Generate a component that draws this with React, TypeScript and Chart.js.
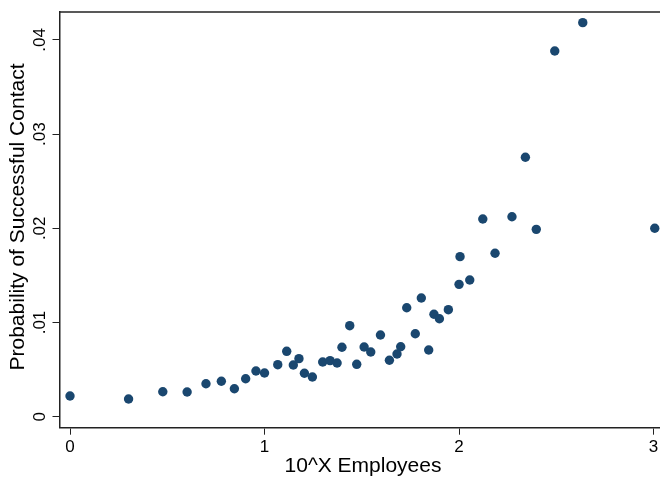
import React, { useEffect, useRef } from "react";
import { Chart, registerables } from "chart.js";

Chart.register(...registerables);

const xValues: number[] = [0, 0.301, 0.477, 0.602, 0.699, 0.778, 0.845, 0.903, 0.956, 1.0, 1.068, 1.114, 1.148, 1.177, 1.205, 1.246, 1.299, 1.337, 1.373, 1.398, 1.438, 1.474, 1.512, 1.546, 1.596, 1.642, 1.681, 1.7, 1.731, 1.775, 1.806, 1.844, 1.871, 1.899, 1.945, 2.0, 2.005, 2.055, 2.122, 2.185, 2.272, 2.341, 2.397, 2.492, 2.636, 3.006];
const yValues: number[] = [0.0022, 0.00188, 0.00265, 0.00262, 0.0035, 0.00376, 0.00297, 0.00403, 0.00485, 0.00464, 0.00552, 0.00694, 0.00549, 0.00616, 0.00461, 0.00421, 0.00581, 0.00595, 0.0057, 0.00737, 0.00966, 0.00556, 0.0074, 0.00687, 0.00867, 0.00599, 0.00666, 0.00743, 0.01157, 0.00881, 0.0126, 0.00708, 0.01087, 0.0104, 0.01136, 0.01405, 0.01699, 0.01451, 0.02099, 0.01735, 0.02123, 0.02754, 0.01989, 0.03882, 0.04183, 0.02];

const xTicks: number[] = [0, 1, 2, 3];
const xTickLabels: string[] = ["0", "1", "2", "3"];
const yTicks: number[] = [0, 0.01, 0.02, 0.03, 0.04];
const yTickLabels: string[] = ["0", ".01", ".02", ".03", ".04"];

const xTitle = "10^X Employees";
const yTitle = "Probability of Successful Contact";

const FONT = "'Liberation Sans', Arial, Helvetica, sans-serif";
const DOT = "#1a476f";

export default function App() {
  const ref = useRef<HTMLCanvasElement | null>(null);

  useEffect(() => {
    if (!ref.current) return;
    const framePlugin = {
      id: "stataFrame",
      afterLayout(chart: any) {
        const W = chart.width;
        const xs = chart.scales.x;
        xs.right = W;
        xs.width = W - xs.left;
        chart.chartArea.right = W;
        chart.chartArea.width = W - chart.chartArea.left;
        xs.configure();
      },
      afterDraw(chart: any) {
        const { ctx, chartArea } = chart;
        const ys = chart.scales.y;
        ctx.save();
        // top frame line
        ctx.strokeStyle = "#222";
        ctx.lineWidth = 1.5;
        ctx.beginPath();
        ctx.moveTo(chartArea.left, chartArea.top);
        ctx.lineTo(chart.width, chartArea.top);
        ctx.stroke();
        // y tick labels, rotated
        ctx.fillStyle = "#000";
        ctx.font = `17px ${FONT}`;
        ctx.textAlign = "center";
        ctx.textBaseline = "middle";
        yTicks.forEach((v, i) => {
          const py = ys.getPixelForValue(v);
          ctx.save();
          ctx.translate(40, py);
          ctx.rotate(-Math.PI / 2);
          ctx.fillText(yTickLabels[i], 0, 0);
          ctx.restore();
        });
        // y title
        ctx.font = `21px ${FONT}`;
        ctx.save();
        ctx.translate(18, 217);
        ctx.rotate(-Math.PI / 2);
        ctx.fillText(yTitle, 0, 0);
        ctx.restore();
        // x title
        ctx.fillText(xTitle, 363, 466);
        ctx.restore();
      },
    };

    const chart = new Chart(ref.current, {
      type: "scatter",
      data: {
        datasets: [
          {
            data: xValues.map((x, i) => ({ x, y: yValues[i] })),
            backgroundColor: DOT,
            borderColor: DOT,
            borderWidth: 0,
            pointRadius: 4.7,
            pointHoverRadius: 4.7,
            clip: false as any,
          },
        ],
      },
      options: {
        responsive: false,
        animation: false,
        events: [],
        layout: { padding: { top: 12, left: 0, right: 0, bottom: 0 } },
        plugins: {
          legend: { display: false },
          tooltip: { enabled: false },
          title: { display: false },
        },
        scales: {
          x: {
            type: "linear",
            position: "bottom",
            min: -0.054,
            max: 3.033,
            afterBuildTicks: (s: any) => {
              s.ticks = xTicks.map((v) => ({ value: v }));
            },
            afterFit: (s: any) => {
              s.height = 50.3;
              s.paddingLeft = 0;
              s.paddingRight = 0;
            },
            ticks: {
              color: "#000",
              font: { family: FONT, size: 17 },
              padding: 2,
              maxRotation: 0,
              autoSkip: false,
              callback: (v: any) => {
                const i = xTicks.indexOf(Number(v));
                return i >= 0 ? xTickLabels[i] : "";
              },
            },
            grid: { drawOnChartArea: false, drawTicks: true, tickLength: 7, color: "#222", lineWidth: 1 },
            border: { display: true, color: "#222", width: 1.5 },
          },
          y: {
            type: "linear",
            position: "left",
            min: -0.001168,
            max: 0.04296,
            afterBuildTicks: (s: any) => {
              s.ticks = yTicks.map((v) => ({ value: v }));
            },
            afterFit: (s: any) => {
              s.width = 59.5;
              s.paddingTop = 0;
              s.paddingBottom = 0;
            },
            ticks: { display: false },
            grid: { drawOnChartArea: false, drawTicks: true, tickLength: 7, color: "#222", lineWidth: 1 },
            border: { display: true, color: "#222", width: 1.5 },
          },
        },
      },
      plugins: [framePlugin],
    });
    return () => chart.destroy();
  }, []);

  return (
    <div style={{ position: "fixed", left: 0, top: 0, width: 660, height: 478, background: "#fff" }}>
      <canvas ref={ref} width={660} height={478} style={{ display: "block" }} />
    </div>
  );
}
